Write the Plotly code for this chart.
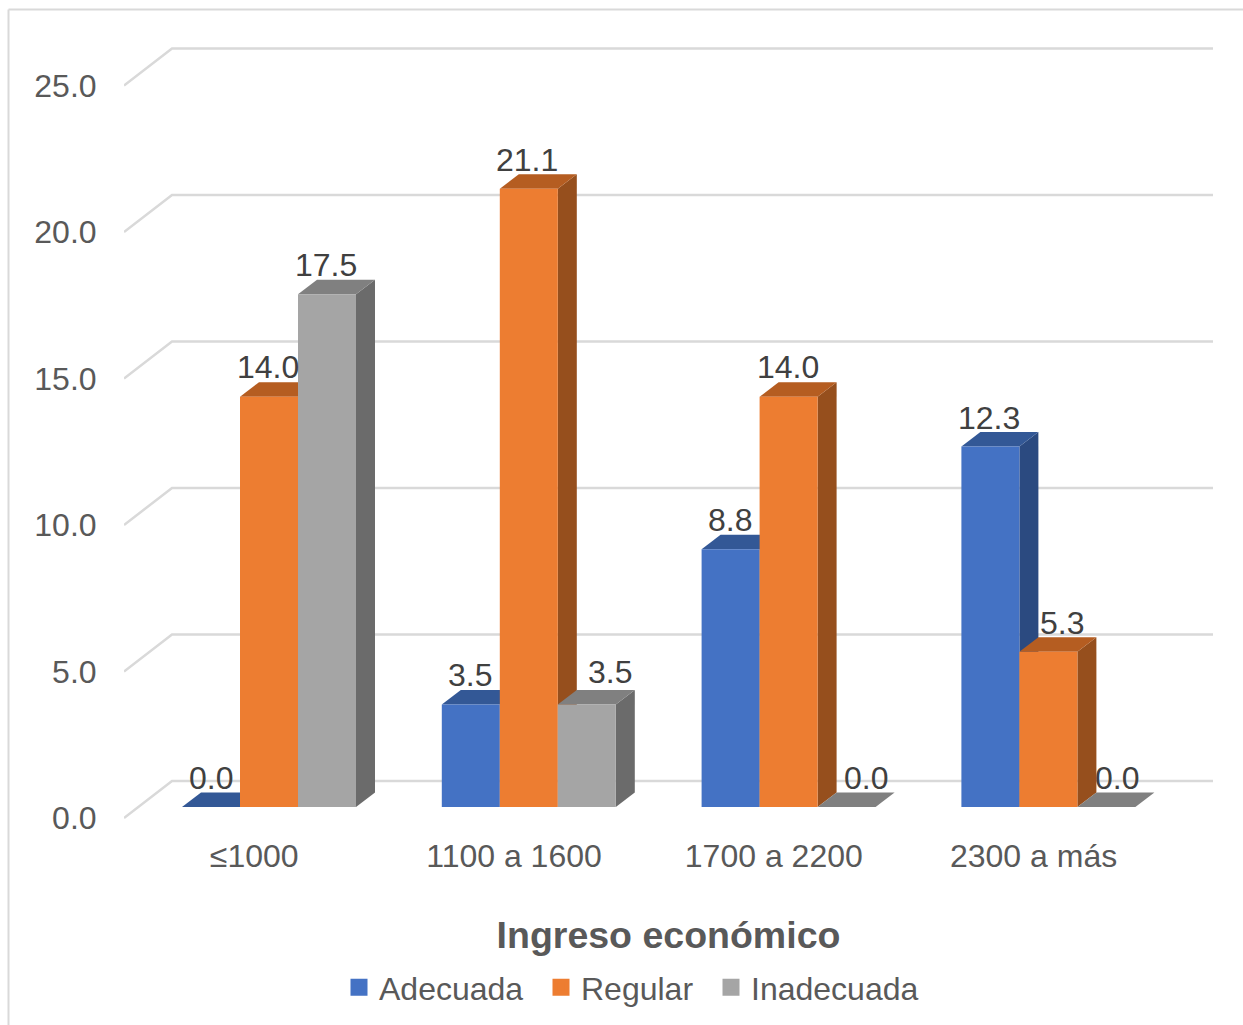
import plotly.graph_objects as go

# ---- data ----
categories = ["≤1000", "1100 a 1600", "1700 a 2200", "2300 a más"]
series_names = ["Adecuada", "Regular", "Inadecuada"]
adecuada = [0.0, 3.5, 8.8, 12.3]
regular = [14.0, 21.1, 14.0, 5.3]
inadecuada = [17.5, 3.5, 0.0, 0.0]
axis_ticks = [0, 5, 10, 15, 20, 25]
axis_title = "Ingreso económico"

# ---- styles ----
front_colors = ["#4472C4", "#ED7D31", "#A5A5A5"]
top_colors = ["#335896", "#B55D21", "#808080"]
side_colors = ["#2B4A80", "#964F1D", "#6B6B6B"]
GRID = "#D9D9D9"
AXIS_TEXT = "#595959"
LABEL_TEXT = "#404040"
FONT = "Liberation Sans"
W, H = 1243, 1025

# ---- geometry (pixels to axis units) ----
PX_PER_GROUP = 259.8
PX_PER_UNIT = 29.3
GROUP0_PX = 269.0
PLOT_L, PLOT_R, PLOT_T, PLOT_B = 124, 1213, 30, 819
ZERO_BAR_PX, ZERO_LABEL_PX = 807, 818
BAR_W = 58 / PX_PER_GROUP
DEPTH_X = 19 / PX_PER_GROUP
DEPTH_Y = 14.5 / PX_PER_UNIT
WALL_X = 48 / PX_PER_GROUP
WALL_Y = 37 / PX_PER_UNIT

x_range = [(PLOT_L - GROUP0_PX) / PX_PER_GROUP, (PLOT_R - GROUP0_PX) / PX_PER_GROUP]
bar_range = [(ZERO_BAR_PX - PLOT_B) / PX_PER_UNIT, (ZERO_BAR_PX - PLOT_T) / PX_PER_UNIT]
label_range = [(ZERO_LABEL_PX - PLOT_B) / PX_PER_UNIT, (ZERO_LABEL_PX - PLOT_T) / PX_PER_UNIT]

# label nudges in pixels, by series then group
nudge_x = [[0, -1, -1, -1], [-1, -2, -1, 14], [-1, 23, 19, 11]]
nudge_y = [[29, 29, 29, 29], [30, 29, 30, 29], [29, 32, 29, 29]]

series = [adecuada, regular, inadecuada]
groups = list(range(len(categories)))

fig = go.Figure()

# back wall + side wall gridlines, on the label axis
gx, gy = [], []
for t in axis_ticks:
    gx += [x_range[0], x_range[0] + WALL_X, x_range[1], None]
    gy += [t, t + WALL_Y, t + WALL_Y, None]
fig.add_trace(go.Scatter(x=gx, y=gy, mode="lines", line=dict(color=GRID, width=2.5),
                         hoverinfo="skip", showlegend=False, yaxis="y"))

# depth faces
for g in groups:
    for s, vals in enumerate(series):
        v = vals[g]
        left = g + (s - 1.5) * BAR_W
        right = left + BAR_W
        side_x = [right, right + DEPTH_X, right + DEPTH_X, right, right]
        side_y = [0, DEPTH_Y, v + DEPTH_Y, v, 0]
        top_x = [left, right, right + DEPTH_X, left + DEPTH_X, left]
        top_y = [v, v, v + DEPTH_Y, v + DEPTH_Y, v]
        if v > 0:
            fig.add_trace(go.Scatter(x=side_x, y=side_y, mode="lines", fill="toself",
                                     fillcolor=side_colors[s], line=dict(width=0),
                                     hoverinfo="skip", showlegend=False, yaxis="y2"))
        fig.add_trace(go.Scatter(x=top_x, y=top_y, mode="lines", fill="toself",
                                 fillcolor=top_colors[s], line=dict(width=0),
                                 hoverinfo="skip", showlegend=False, yaxis="y2"))

# front faces
for s, vals in enumerate(series):
    fig.add_trace(go.Bar(x=groups, y=vals, name=series_names[s], width=BAR_W,
                         offset=(s - 1.5) * BAR_W, marker=dict(color=front_colors[s], line=dict(width=0)),
                         showlegend=False, yaxis="y3"))

# legend entries, one legend each so they sit where the reference has them
legend_px = [339, 541, 711]
legend_ids = ["legend", "legend2", "legend3"]
for s, name in enumerate(series_names):
    fig.add_trace(go.Bar(x=[None], y=[None], name=name, legend=legend_ids[s],
                         marker=dict(color=front_colors[s], line=dict(color=front_colors[s], width=5)),
                         yaxis="y3"))

annotations = []
for s, vals in enumerate(series):
    for g in groups:
        annotations.append(dict(
            x=g + (s - 1) * BAR_W, y=vals[g], xref="x", yref="y2",
            text=f"{vals[g]:.1f}", showarrow=False, xanchor="center", yanchor="middle",
            xshift=nudge_x[s][g], yshift=nudge_y[s][g],
            font=dict(family=FONT, size=32, color=LABEL_TEXT)))

layout_legends = {}
for s, lid in enumerate(legend_ids):
    layout_legends[lid] = dict(
        x=legend_px[s] / W, y=1 - 960 / H, xref="container", yref="container",
        xanchor="left", yanchor="top", orientation="h", bgcolor="rgba(0,0,0,0)",
        itemwidth=30, font=dict(family=FONT, size=32, color=AXIS_TEXT))

fig.update_layout(
    width=W, height=H, autosize=False, paper_bgcolor="white", plot_bgcolor="white",
    margin=dict(l=PLOT_L, r=W - PLOT_R, t=PLOT_T, b=H - PLOT_B),
    barmode="overlay", showlegend=True, annotations=annotations,
    font=dict(family=FONT, color=AXIS_TEXT, size=32),
    xaxis=dict(range=x_range, tickmode="array", tickvals=[g - 0.057 for g in groups], ticktext=categories,
               showgrid=False, zeroline=False, showline=False, ticks="outside", ticklen=9,
               tickcolor="rgba(0,0,0,0)", tickfont=dict(family=FONT, size=32, color=AXIS_TEXT),
               title=dict(text=f"<b>{axis_title}</b>", standoff=48,
                          font=dict(family=FONT, size=37.5, color=AXIS_TEXT))),
    yaxis=dict(range=label_range, tickmode="array", tickvals=axis_ticks,
               ticktext=[f"{t:.1f}" for t in axis_ticks], showgrid=False, zeroline=False, showline=False,
               ticks="outside", ticklen=20, tickcolor="rgba(0,0,0,0)",
               tickfont=dict(family=FONT, size=32, color=AXIS_TEXT)),
    yaxis2=dict(range=bar_range, overlaying="y", visible=False),
    yaxis3=dict(range=bar_range, overlaying="y", visible=False),
    shapes=[
        dict(type="line", xref="paper", yref="paper", x0=(8.5 - PLOT_L) / (PLOT_R - PLOT_L), x1=(W - PLOT_L) / (PLOT_R - PLOT_L),
             y0=(PLOT_B - 9.5) / (PLOT_B - PLOT_T), y1=(PLOT_B - 9.5) / (PLOT_B - PLOT_T), line=dict(color=GRID, width=2)),
        dict(type="line", xref="paper", yref="paper", x0=(8.5 - PLOT_L) / (PLOT_R - PLOT_L), x1=(8.5 - PLOT_L) / (PLOT_R - PLOT_L),
             y0=(PLOT_B - 9.5) / (PLOT_B - PLOT_T), y1=(PLOT_B - H) / (PLOT_B - PLOT_T), line=dict(color=GRID, width=2)),
    ],
    **layout_legends,
)

fig.write_html("out.html", config=dict(displayModeBar=False),
               post_script="document.body.style.margin='0';document.body.style.overflow='hidden';")
